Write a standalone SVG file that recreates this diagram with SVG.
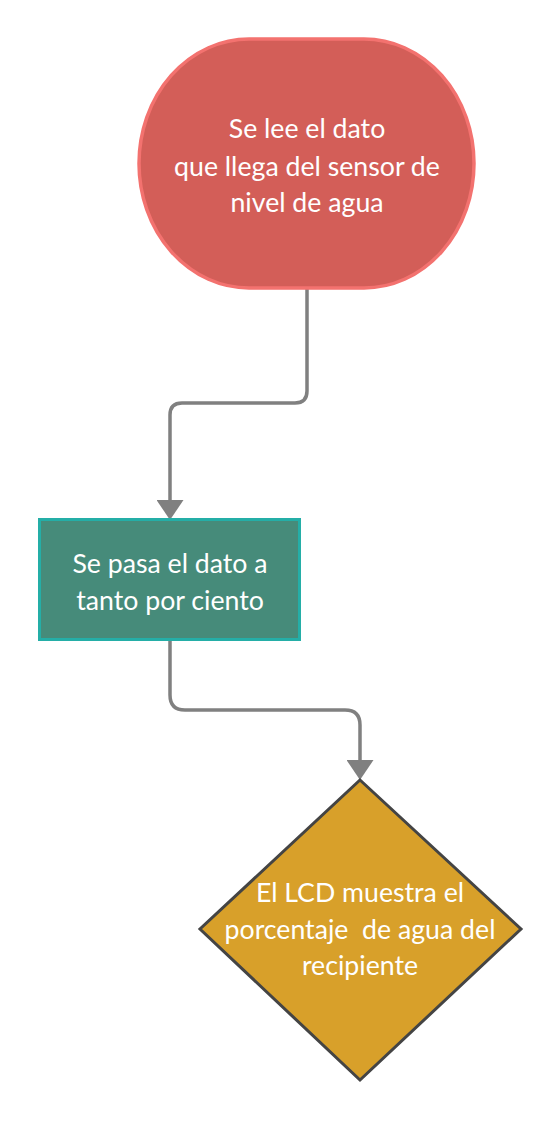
<svg xmlns="http://www.w3.org/2000/svg" width="560" height="1121" viewBox="0 0 560 1121">
<style>
.t{font-family:Lato,"Noto Sans","Liberation Sans",sans-serif;font-size:26.7px;fill:#ffffff;text-anchor:middle;white-space:pre}
.c{fill:none;stroke:#808080;stroke-width:3.5}
</style>
<defs>
<marker id="arr" markerUnits="userSpaceOnUse" viewBox="0 0 20 27" refX="0" refY="13.5" markerWidth="20" markerHeight="27" orient="auto">
<path d="M0,0 L20,13.5 L0,27 Z" fill="#808080"/>
</marker>
</defs>
<rect width="560" height="1121" fill="#ffffff"/>
<g id="connectors">
<path class="c" d="M307,289 V391 Q307,403 295,403 H182 Q170,403 170,415 V500" marker-end="url(#arr)"/>
<path class="c" d="M170,641 V695 Q170,710 185,710 H345 Q360,710 360,725 V760" marker-end="url(#arr)"/>
</g>
<g id="start">
<rect x="139" y="39" width="335" height="249" rx="110" ry="124.5" fill="#d35e58" stroke="#f3726f" stroke-width="3.5"/>
<text class="t" x="307" y="138">Se lee el dato</text>
<text class="t" x="307" y="176">que llega del sensor de</text>
<text class="t" x="307" y="212">nivel de agua</text>
</g>
<g id="process">
<rect x="39.5" y="519.5" width="260" height="120" fill="#468b7a" stroke="#24aea7" stroke-width="3"/>
<text class="t" x="170" y="573">Se pasa el dato a</text>
<text class="t" x="170" y="610">tanto por ciento</text>
</g>
<g id="decision">
<path d="M360,780 L521,929 L360,1080 L200,929 Z" fill="#d8a02a" stroke="#444444" stroke-width="3" stroke-linejoin="miter"/>
<text class="t" x="360" y="902">El LCD muestra el</text>
<text class="t" x="360" y="939">porcentaje  de agua del</text>
<text class="t" x="360" y="975">recipiente</text>
</g>
</svg>
